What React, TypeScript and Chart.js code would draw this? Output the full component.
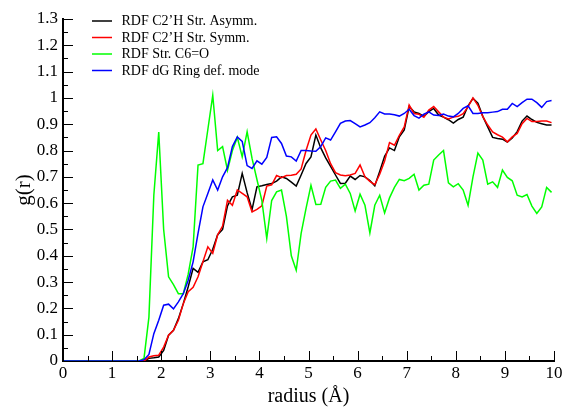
import React, { useEffect, useRef } from "react";
import { Chart, registerables } from "chart.js";

Chart.register(...registerables);

// radius (Å) sample positions
const radius = [
  0, 1.45,
  1.55, 1.65, 1.75, 1.85, 1.95, 2.05, 2.15, 2.25, 2.35, 2.45,
  2.55, 2.65, 2.75, 2.85, 2.95, 3.05, 3.15, 3.25, 3.35, 3.45,
  3.55, 3.65, 3.75, 3.85, 3.95, 4.05, 4.15, 4.25, 4.35, 4.45,
  4.55, 4.65, 4.75, 4.85, 4.95, 5.05, 5.15, 5.25, 5.35, 5.45,
  5.55, 5.65, 5.75, 5.85, 5.95, 6.05, 6.15, 6.25, 6.35, 6.45,
  6.55, 6.65, 6.75, 6.85, 6.95, 7.05, 7.15, 7.25, 7.35, 7.45,
  7.55, 7.65, 7.75, 7.85, 7.95, 8.05, 8.15, 8.25, 8.35, 8.45,
  8.55, 8.65, 8.75, 8.85, 8.95, 9.05, 9.15, 9.25, 9.35, 9.45,
  9.55, 9.65, 9.75, 9.85, 9.95,
];

const seriesLabels = [
  "RDF C2\u2019H Str. Asymm.",
  "RDF C2\u2019H Str. Symm.",
  "RDF Str. C6=O",
  "RDF dG Ring def. mode",
];
const seriesColors = ["#000000", "#ff0000", "#00ff00", "#0000ff"];

const asymm = [
  0, 0,
  0, 0, 0.01, 0.012, 0.015, 0.04, 0.098, 0.117, 0.161, 0.218,
  0.282, 0.352, 0.337, 0.377, 0.385, 0.425, 0.48, 0.5, 0.59, 0.624,
  0.63, 0.713, 0.64, 0.575, 0.662, 0.666, 0.671, 0.675, 0.684, 0.7,
  0.694, 0.68, 0.665, 0.707, 0.751, 0.776, 0.859, 0.81, 0.772, 0.74,
  0.707, 0.675, 0.676, 0.703, 0.69, 0.705, 0.7, 0.686, 0.666, 0.72,
  0.778, 0.81, 0.8, 0.852, 0.878, 0.967, 0.947, 0.941, 0.93, 0.948,
  0.96, 0.935, 0.927, 0.917, 0.904, 0.918, 0.927, 0.97, 0.998, 0.98,
  0.93, 0.89, 0.85, 0.846, 0.843, 0.832, 0.848, 0.872, 0.912, 0.931,
  0.918, 0.907, 0.902, 0.897, 0.897,
];

const symm = [
  0, 0,
  0, 0, 0.015, 0.02, 0.022, 0.053, 0.098, 0.117, 0.155, 0.218,
  0.263, 0.28, 0.32, 0.377, 0.434, 0.409, 0.48, 0.513, 0.611, 0.592,
  0.65, 0.637, 0.624, 0.567, 0.576, 0.59, 0.665, 0.67, 0.705, 0.697,
  0.705, 0.706, 0.71, 0.73, 0.8, 0.859, 0.882, 0.84, 0.8, 0.75,
  0.716, 0.707, 0.704, 0.707, 0.713, 0.745, 0.7, 0.683, 0.67, 0.71,
  0.76, 0.83, 0.82, 0.858, 0.89, 0.973, 0.941, 0.938, 0.927, 0.954,
  0.967, 0.947, 0.927, 0.92, 0.927, 0.93, 0.94, 0.967, 1.0, 0.972,
  0.929, 0.897, 0.871, 0.86, 0.851, 0.833, 0.852, 0.865, 0.902, 0.922,
  0.91, 0.91, 0.912, 0.912, 0.906,
];

const c6o = [
  0, 0,
  0, 0.01, 0.167, 0.63, 0.87, 0.5, 0.32, 0.29, 0.256, 0.256,
  0.33, 0.434, 0.745, 0.75, 0.88, 1.01, 0.8, 0.815, 0.725, 0.8,
  0.85, 0.776, 0.871, 0.77, 0.69, 0.61, 0.466, 0.61, 0.643, 0.65,
  0.55, 0.4, 0.345, 0.485, 0.58, 0.668, 0.595, 0.596, 0.66, 0.684,
  0.688, 0.656, 0.672, 0.637, 0.57, 0.634, 0.592, 0.487, 0.592, 0.63,
  0.563, 0.62, 0.66, 0.69, 0.685, 0.694, 0.71, 0.65, 0.668, 0.672,
  0.764, 0.783, 0.8, 0.677, 0.662, 0.674, 0.65, 0.592, 0.7, 0.79,
  0.764, 0.672, 0.681, 0.66, 0.726, 0.698, 0.685, 0.63, 0.624, 0.633,
  0.589, 0.561, 0.586, 0.66, 0.641,
];

const ringDef = [
  0, 0,
  0, 0.005, 0.025, 0.104, 0.155, 0.212, 0.216, 0.198, 0.225, 0.256,
  0.307, 0.377, 0.485, 0.586, 0.637, 0.688, 0.65, 0.7, 0.735, 0.815,
  0.852, 0.835, 0.743, 0.732, 0.761, 0.748, 0.774, 0.85, 0.852, 0.827,
  0.779, 0.776, 0.76, 0.8, 0.8, 0.798, 0.797, 0.815, 0.848, 0.84,
  0.871, 0.903, 0.912, 0.914, 0.902, 0.89, 0.897, 0.906, 0.925, 0.947,
  0.939, 0.939, 0.936, 0.931, 0.941, 0.957, 0.933, 0.923, 0.938, 0.947,
  0.935, 0.933, 0.939, 0.931, 0.928, 0.941, 0.96, 0.97, 0.941, 0.941,
  0.944, 0.944, 0.946, 0.948, 0.957, 0.957, 0.979, 0.967, 0.982, 0.995,
  0.995, 0.982, 0.964, 0.986, 0.99,
];

const xTicks = [0, 1, 2, 3, 4, 5, 6, 7, 8, 9, 10];
const xTickLabels = ["0", "1", "2", "3", "4", "5", "6", "7", "8", "9", "10"];
const yTicks = [0, 0.1, 0.2, 0.3, 0.4, 0.5, 0.6, 0.7, 0.8, 0.9, 1, 1.1, 1.2, 1.3];
const yTickLabels = ["0", "0.1", "0.2", "0.3", "0.4", "0.5", "0.6", "0.7", "0.8", "0.9", "1", "1.1", "1.2", "1.3"];

const SERIF = '"Liberation Serif", "DejaVu Serif", "Times New Roman", serif';

const innerTicks = {
  id: "innerTicks",
  afterDatasetsDraw(chart: any) {
    const { ctx, scales } = chart;
    const x = scales.x;
    const y = scales.y;
    const left = chart.chartArea.left;
    const bottom = chart.chartArea.bottom;
    ctx.save();
    ctx.strokeStyle = "#000";
    ctx.lineWidth = 1;
    ctx.beginPath();
    for (let i = 0; i < yTicks.length; i++) {
      const py = Math.round(y.getPixelForValue(yTicks[i])) + 0.5;
      ctx.moveTo(left, py);
      ctx.lineTo(left + 10, py);
      if (i < yTicks.length - 1) {
        const pm = Math.round(y.getPixelForValue((yTicks[i] + yTicks[i + 1]) / 2)) + 0.5;
        ctx.moveTo(left, pm);
        ctx.lineTo(left + 5, pm);
      }
    }
    for (let i = 0; i < xTicks.length; i++) {
      const px = Math.round(x.getPixelForValue(xTicks[i])) + 0.5;
      ctx.moveTo(px, bottom);
      ctx.lineTo(px, bottom - 10);
      if (i < xTicks.length - 1) {
        const pm = Math.round(x.getPixelForValue((xTicks[i] + xTicks[i + 1]) / 2)) + 0.5;
        ctx.moveTo(pm, bottom);
        ctx.lineTo(pm, bottom - 5);
      }
    }
    ctx.stroke();
    ctx.restore();
  },
};

const insideLegend = {
  id: "insideLegend",
  afterDraw(chart: any) {
    const { ctx } = chart;
    const rows = [21, 37.5, 54, 70.5];
    ctx.save();
    ctx.font = `14px ${SERIF}`;
    ctx.textBaseline = "middle";
    ctx.textAlign = "left";
    chart.data.datasets.forEach((ds: any, i: number) => {
      const yy = rows[i];
      ctx.strokeStyle = ds.borderColor;
      ctx.lineWidth = 1.5;
      ctx.beginPath();
      ctx.moveTo(92, yy);
      ctx.lineTo(112, yy);
      ctx.stroke();
      ctx.fillStyle = "#000";
      ctx.fillText(ds.label, 121.5, yy + 0.5);
    });
    ctx.restore();
  },
};

export default function App() {
  const canvasRef = useRef<HTMLCanvasElement | null>(null);

  useEffect(() => {
    if (!canvasRef.current) return;
    const all = [asymm, symm, c6o, ringDef];
    const orders = [3, 2, 1, 0];
    const chart = new Chart(canvasRef.current, {
      type: "line",
      data: {
        datasets: all.map((vals, i) => ({
          label: seriesLabels[i],
          data: radius.map((r, j) => ({ x: r, y: vals[j] })),
          borderColor: seriesColors[i],
          backgroundColor: seriesColors[i],
          borderWidth: 1.5,
          pointRadius: 0,
          tension: 0,
          fill: false,
          order: orders[i],
        })),
      },
      options: {
        animation: false,
        responsive: false,
        devicePixelRatio: 1,
        layout: { padding: { top: 19, right: 11, left: 0, bottom: 0 } },
        plugins: {
          legend: { display: false },
          tooltip: { enabled: false },
        },
        scales: {
          x: {
            type: "linear",
            min: 0,
            max: 10,
            afterBuildTicks: (s: any) => {
              s.ticks = xTicks.map((v) => ({ value: v }));
            },
            afterFit: (s: any) => {
              s.height = 46;
            },
            ticks: {
              callback: (_v: any, i: number) => xTickLabels[i],
              font: { family: SERIF, size: 17 },
              color: "#000",
              padding: 2,
              maxRotation: 0,
              autoSkip: false,
            },
            grid: { display: false, drawTicks: false },
            border: { display: true, color: "#000", width: 2 },
            title: {
              display: true,
              text: "radius (\u00C5)",
              font: { family: SERIF, size: 20, lineHeight: 1 },
              color: "#000",
              padding: { top: 0, bottom: 0 },
            },
          },
          y: {
            type: "linear",
            min: 0,
            max: 1.3,
            afterBuildTicks: (s: any) => {
              s.ticks = yTicks.map((v) => ({ value: v }));
            },
            afterFit: (s: any) => {
              s.width = 63;
            },
            ticks: {
              callback: (_v: any, i: number) => yTickLabels[i],
              font: { family: SERIF, size: 17 },
              color: "#000",
              padding: 5,
              autoSkip: false,
            },
            grid: { display: false, drawTicks: false },
            border: { display: true, color: "#000", width: 2 },
            title: {
              display: true,
              text: "g(r)",
              font: { family: SERIF, size: 21, lineHeight: 1 },
              color: "#000",
              padding: { top: 14, bottom: 0 },
            },
          },
        },
      },
      plugins: [innerTicks, insideLegend],
    });
    return () => chart.destroy();
  }, []);

  return (
    <div style={{ position: "absolute", left: 0, top: 0, width: 565, height: 407, background: "#fff" }}>
      <canvas ref={canvasRef} width={565} height={407} style={{ display: "block" }} />
    </div>
  );
}
